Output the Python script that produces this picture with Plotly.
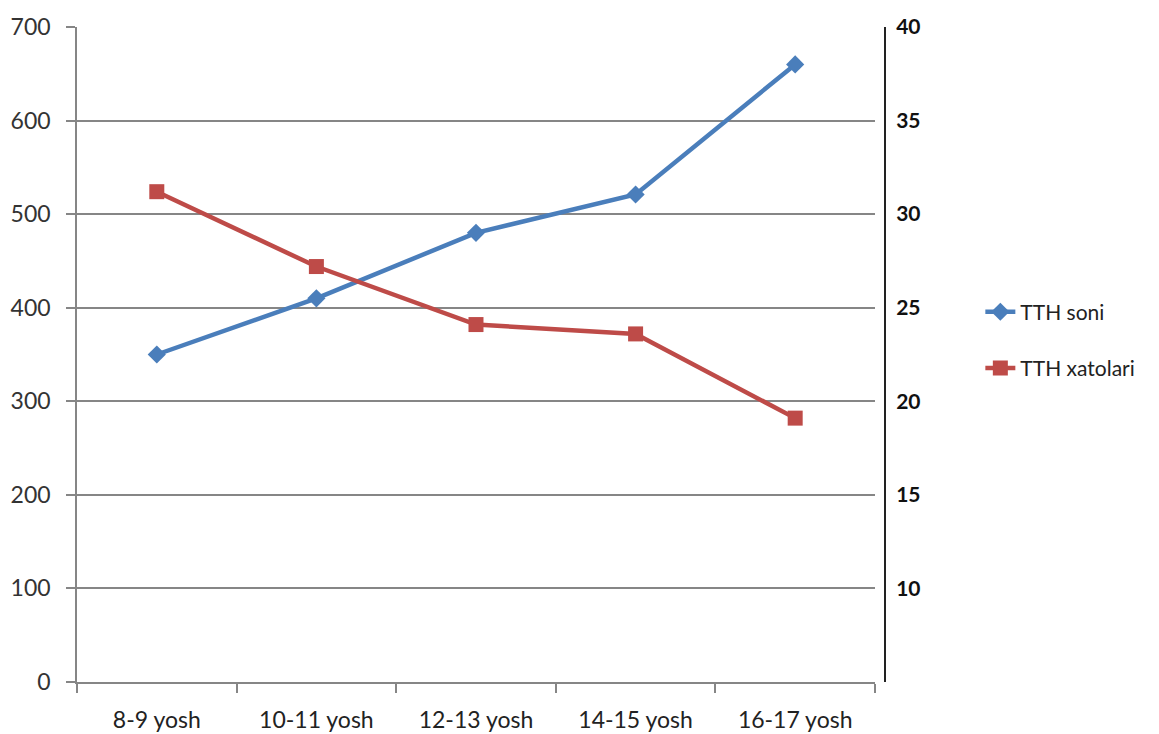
import plotly.graph_objects as go

categories = ["8-9 yosh", "10-11 yosh", "12-13 yosh", "14-15 yosh", "16-17 yosh"]
tth_soni = [350, 410, 480, 521, 660]
tth_xatolari = [31.2, 27.2, 24.1, 23.6, 19.1]
left_ticks = [0, 100, 200, 300, 400, 500, 600, 700]
right_ticks = [10, 15, 20, 25, 30, 35, 40]

fig = go.Figure()
fig.add_trace(go.Scatter(
    x=categories, y=tth_soni, name="TTH soni", mode="lines+markers",
    line=dict(color="#4A7EBB", width=4.5),
    marker=dict(symbol="diamond", size=14, color="#4A7EBB"),
    legendgroup="a", yaxis="y"))
fig.add_trace(go.Scatter(
    x=categories, y=tth_xatolari, name="TTH xatolari", mode="lines+markers",
    line=dict(color="#BE4B48", width=4.5),
    marker=dict(symbol="square", size=15, color="#BE4B48"),
    legendgroup="b", yaxis="y2"))

fig.update_layout(
    width=1151, height=726,
    margin=dict(l=69, r=274, t=19, b=52, autoexpand=False),
    paper_bgcolor="white", plot_bgcolor="white",
    font=dict(family="Lato, Carlito, sans-serif", size=23, color="#333333"),
    showlegend=True,
    legend=dict(x=1.118, y=0.522, xanchor="left", yanchor="middle",
                font=dict(size=21, color="#222222"),
                traceorder="grouped", tracegroupgap=26,
                bgcolor="rgba(0,0,0,0)"),
    xaxis=dict(domain=[0, 0.9876], type="category", automargin=False,
               range=[-0.5, len(categories) - 0.5],
               showline=True, linecolor="#868686", linewidth=1.5,
               ticks="outside", ticklen=9, tickcolor="#868686", tickwidth=1.5,
               tickson="boundaries", showgrid=False,
               tickfont=dict(size=23, color="#222222"), ticklabelstandoff=17),
    yaxis=dict(range=[0, 700], tickvals=left_ticks, automargin=False,
               showline=True, linecolor="#868686", linewidth=1.5,
               ticks="outside", ticklen=9, tickcolor="#868686", tickwidth=1.5,
               showgrid=True, gridcolor="#868686", gridwidth=1.5,
               zeroline=False,
               tickfont=dict(size=23, color="#333333"), ticklabelstandoff=11),
    yaxis2=dict(range=[5, 40], tickvals=right_ticks, overlaying="y",
                anchor="free", position=1.0, side="right", automargin=False,
                showline=True, linecolor="#222222", linewidth=2,
                ticks="", showgrid=False, zeroline=False, ticklabelstandoff=6,
                tickfont=dict(size=21, color="#111111", family="Lato, sans-serif", weight="bold")),
)

fig.write_html("out.html")
